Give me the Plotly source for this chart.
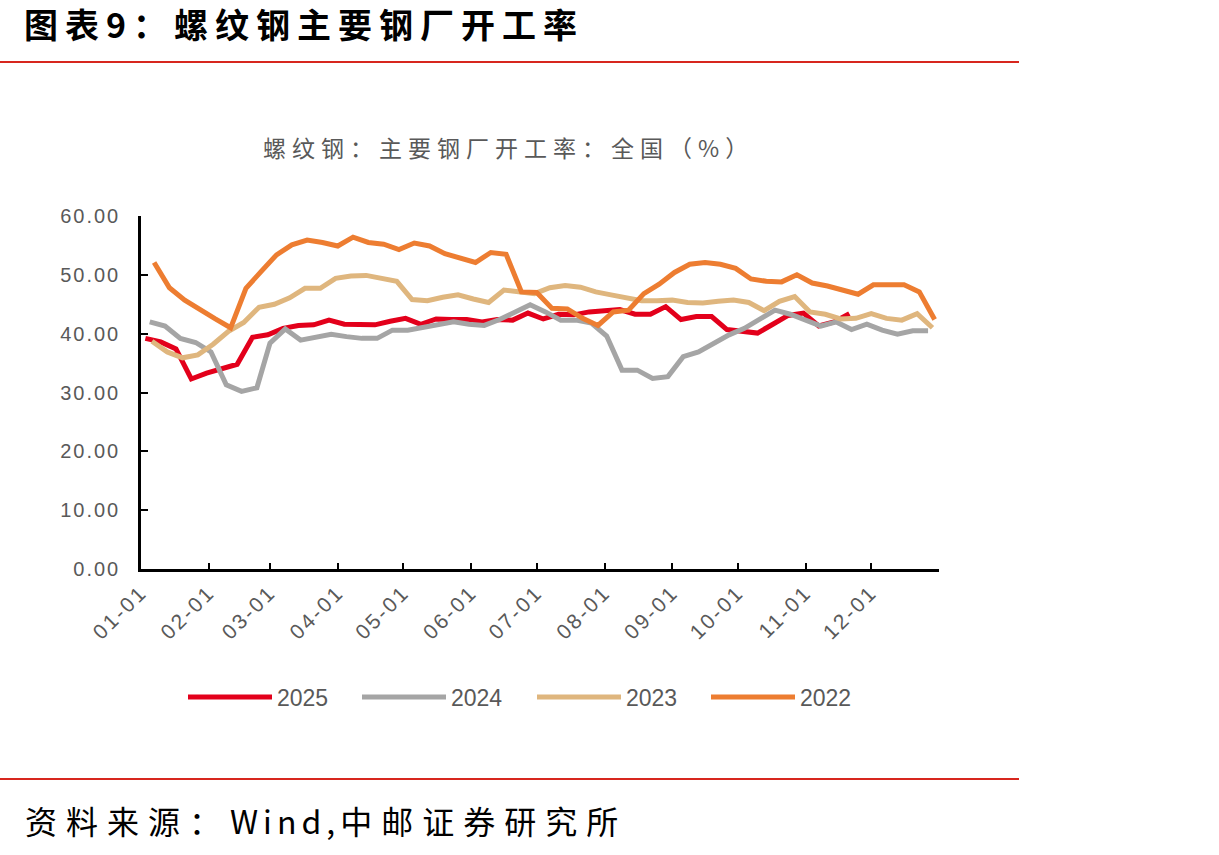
import pandas as pd
import plotly.graph_objects as go

# ---- data (weekly) ----
years = ["2025", "2024", "2023", "2022"]
start_dates = {"2025": "2025-01-03", "2024": "2024-01-05", "2023": "2023-01-06", "2022": "2022-01-07"}

v2025 = [39.2, 38.6, 37.4, 32.3, 33.3, 34.1, 34.8, 39.4, 39.8, 40.9,
         41.4, 41.5, 42.3, 41.6, 41.5, 41.5, 42.1, 42.6, 41.6, 42.5,
         42.4, 42.4, 42.0, 42.4, 42.3, 43.5, 42.5, 43.3, 43.2, 43.7,
         43.9, 44.1, 43.3, 43.3, 44.6, 42.4, 42.9, 42.9, 40.7, 40.5,
         40.1, 41.6, 43.1, 43.5, 41.3, 42.0, 43.4]
v2024 = [42.0, 41.3, 39.2, 38.5, 36.9, 31.3, 30.2, 30.8, 38.4, 40.8,
         38.9, 39.5, 39.9, 39.5, 39.2, 39.2, 40.6, 40.6, 41.0, 41.4,
         42.0, 41.6, 41.4, 42.4, 43.6, 44.9, 43.7, 42.3, 42.3, 41.8,
         39.6, 33.8, 33.8, 32.4, 32.7, 36.1, 36.9, 38.4, 39.8, 40.9,
         42.5, 44.0, 43.3, 42.3, 41.3, 42.0, 40.7, 41.6, 40.6, 39.9,
         40.5, 40.5]
v2023 = [38.7, 36.9, 35.9, 36.4, 38.2, 40.4, 41.9, 44.5, 45.0, 46.1,
         47.7, 47.7, 49.4, 49.8, 49.9, 49.3, 48.9, 45.8, 45.6, 46.2,
         46.6, 45.9, 45.3, 47.4, 47.0, 46.8, 47.8, 48.2, 47.9, 47.1,
         46.6, 46.0, 45.6, 45.6, 45.7, 45.3, 45.2, 45.5, 45.7, 45.3,
         43.9, 45.5, 46.3, 43.7, 43.3, 42.5, 42.6, 43.4, 42.6, 42.3,
         43.4, 41.0]
v2022 = [52.1, 47.8, 45.7, 44.0, 42.5, 41.0, 47.7, 50.6, 53.4, 55.1,
         55.9, 55.5, 54.9, 56.4, 55.5, 55.2, 54.3, 55.4, 54.9, 53.6,
         52.8, 52.1, 53.8, 53.5, 47.1, 47.0, 44.3, 44.2, 42.6, 41.4,
         43.7, 44.0, 46.8, 48.4, 50.4, 51.8, 52.1, 51.8, 51.1, 49.3,
         48.9, 48.8, 50.0, 48.6, 48.1, 47.4, 46.7, 48.3, 48.3, 48.3,
         47.1, 42.4]
values = {"2025": v2025, "2024": v2024, "2023": v2023, "2022": v2022}

month_ticks = ["2025-%02d-01" % m for m in range(1, 13)] + ["2026-01-01"]
month_labels = ["%02d-01" % m for m in range(1, 13)] + [""]
y_ticks = [0, 10, 20, 30, 40, 50, 60]
y_labels = ["%.2f" % v for v in y_ticks]

colors = {"2025": "#E3001B", "2024": "#A5A5A5", "2023": "#DFB67E", "2022": "#ED7D31"}


# map each year's weekly dates onto a common (2025) month-day axis
def common_dates(start, n):
    d = pd.date_range(start=start, periods=n, freq="7D")
    return [pd.Timestamp(2025, x.month, 28 if (x.month == 2 and x.day == 29) else x.day) for x in d]


L, R, T, B = 141, 939, 216, 569
W, H = 1219, 855


def px(x):
    return (x - L) / (R - L)


def py(y):
    return (B - y) / (B - T)


legend_ids = ["legend", "legend2", "legend3", "legend4"]
legend_x = [183, 357, 532, 706]

fig = go.Figure()
for i, y in enumerate(years):
    fig.add_trace(go.Scatter(
        x=common_dates(start_dates[y], len(values[y])), y=values[y],
        mode="lines", name=y, legend=legend_ids[i],
        line=dict(color=colors[y], width=5),
    ))

legend_font = dict(size=23, color="#595959", family="Liberation Sans, Arial")
layout_legends = {}
for i, lid in enumerate(legend_ids):
    layout_legends[lid] = dict(orientation="h", x=px(legend_x[i]), y=py(697),
                               xanchor="left", yanchor="middle", font=legend_font,
                               itemwidth=84, bgcolor="rgba(0,0,0,0)")

fig.update_layout(
    width=W, height=H,
    margin=dict(l=L, r=W - R, t=T, b=H - B, pad=0),
    paper_bgcolor="white", plot_bgcolor="white",
    font=dict(family="Liberation Sans, Arial", color="#595959"),
    showlegend=True,
    xaxis=dict(
        type="date", range=["2025-01-01", "2026-01-01"],
        tickmode="array", tickvals=month_ticks,
        ticktext=['<span style="letter-spacing:2.5px">%s</span>' % t if t else "" for t in month_labels],
        tickangle=-45, tickfont=dict(size=21, color="#595959"),
        ticks="inside", ticklen=6, tickwidth=2, tickcolor="black",
        showline=True, linecolor="black", linewidth=2.5,
        showgrid=False, zeroline=False,
    ),
    yaxis=dict(
        range=[0, 60], tickmode="array", tickvals=y_ticks,
        ticktext=['<span style="letter-spacing:2px">%s</span>' % t for t in y_labels],
        tickfont=dict(size=20, color="#595959"),
        ticks="inside", ticklen=7, tickwidth=2, tickcolor="black",
        showline=True, linecolor="black", linewidth=2.5,
        showgrid=False, zeroline=False, ticklabelstandoff=14,
    ),
    **layout_legends,
)

cjk = "Noto Sans CJK SC"
fig.add_annotation(
    text='<span style="letter-spacing:7px">图表9：螺纹钢主要钢厂开工率</span>',
    xref="paper", yref="paper", x=px(23), y=py(24), xanchor="left", yanchor="middle",
    showarrow=False, borderpad=0,
    font=dict(family=cjk, size=34, color="black", weight="bold"),
)
fig.add_annotation(
    text='<span style="letter-spacing:6px">螺纹钢：主要钢厂开工率：全国（%）</span>',
    xref="paper", yref="paper", x=px(508), y=py(147), xanchor="center", yanchor="middle",
    showarrow=False, font=dict(family=cjk, size=23, color="#595959"),
)
fig.add_annotation(
    text=('<span style="letter-spacing:9px">资料来源：</span>'
          '<span style="letter-spacing:5px">Wind,</span>'
          '<span style="letter-spacing:9px">中邮证券研究所</span>'),
    xref="paper", yref="paper", x=px(23), y=py(820), xanchor="left", yanchor="middle",
    showarrow=False, font=dict(family=cjk, size=32, color="black"),
)
for yy in (62, 779):
    fig.add_shape(type="line", xref="paper", yref="paper",
                  x0=px(0), x1=px(1019), y0=py(yy), y1=py(yy),
                  line=dict(color="#D7261E", width=2))

fig.write_html("out.html")
